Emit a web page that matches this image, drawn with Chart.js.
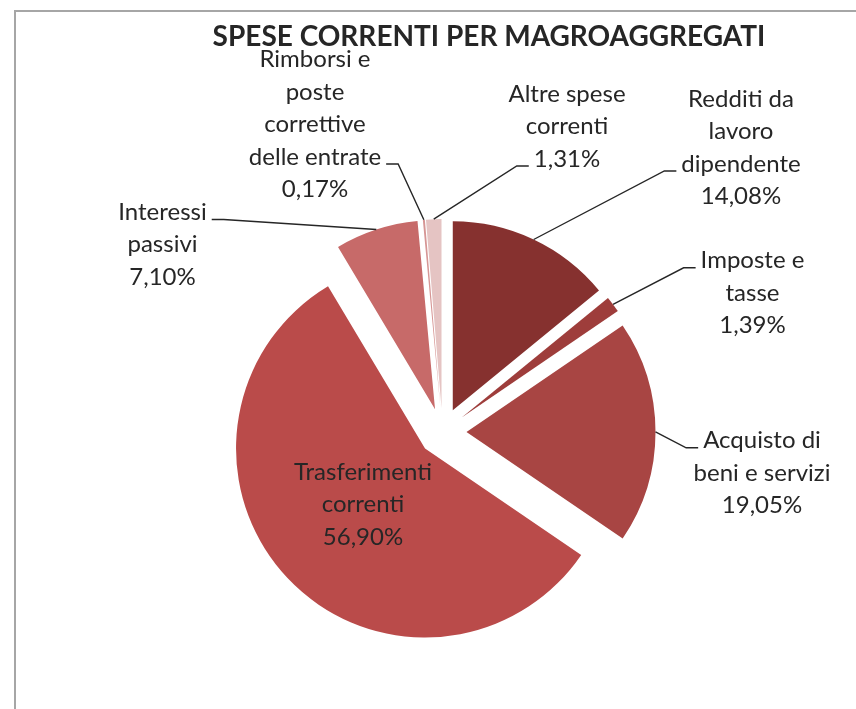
<!DOCTYPE html>
<html>
<head>
<meta charset="utf-8">
<script src="https://cdn.jsdelivr.net/npm/chart.js@4"></script>
<style>
html,body{margin:0;padding:0;background:#fff;overflow:hidden}
canvas{display:block}
</style>
</head>
<body>
<canvas id="c" width="856" height="709"></canvas>
<script>
// ---- data ----
const TITLE = 'SPESE CORRENTI PER MAGROAGGREGATI';
const categories = [
  'Redditi da lavoro dipendente',
  'Imposte e tasse',
  'Acquisto di beni e servizi',
  'Trasferimenti correnti',
  'Interessi passivi',
  'Rimborsi e poste correttive delle entrate',
  'Altre spese correnti'
];
const values = [14.08, 1.39, 19.05, 56.90, 7.10, 0.17, 1.31];
const labelLines = [
  ['Redditi da', 'lavoro', 'dipendente'],
  ['Imposte e', 'tasse'],
  ['Acquisto di', 'beni e servizi'],
  ['Trasferimenti', 'correnti'],
  ['Interessi', 'passivi'],
  ['Rimborsi e', 'poste', 'correttive', 'delle entrate'],
  ['Altre spese', 'correnti']
];

// ---- styles / layout ----
const sliceColors = ['#86312F', '#9E3D3B', '#A84543', '#BA4B4A', '#C76A69', '#D69695', '#E5C4C3'];
const EXPLODE = 24;
const PIE_RADIUS = 189;
// label block: [dx of centre, dy of first baseline] relative to pie centre
const LABEL_POS = [[298.5, -325.3], [310, -163.7], [319.5, 16.3], [-79.5, 48], [-280, -212], [-127.5, -364.7], [124.5, -330.3]];
// which line the leader attaches to (-1: no leader)
const LEADER_LINE = [2, 0, 0, -1, 0, 3, 2];
const LINE_H = 32.4;
const FONT_FAMILY = 'Lato, "Open Sans", sans-serif';
const LABEL_FONT = '24px ' + FONT_FAMILY;
const TITLE_FONT = 'bold 28px ' + FONT_FAMILY;
const TEXT_COLOR = '#262626';

const fmtPct = v => v.toFixed(2).replace('.', ',') + '%';

const explodePlugin = {
  id: 'explode',
  afterDatasetsUpdate(chart) {
    const meta = chart.getDatasetMeta(0);
    meta.data.forEach(arc => {
      const mid = (arc.startAngle + arc.endAngle) / 2;
      arc.x += Math.cos(mid) * EXPLODE;
      arc.y += Math.sin(mid) * EXPLODE;
    });
  }
};

const framePlugin = {
  id: 'frame',
  beforeDraw(chart) {
    const ctx = chart.ctx;
    ctx.save();
    ctx.fillStyle = '#a6a6a6';
    ctx.fillRect(14, 10, chart.width - 14, 2);
    ctx.fillRect(14, 10, 2, chart.height - 10);
    ctx.restore();
  }
};

const labelPlugin = {
  id: 'pieLabels',
  afterDraw(chart) {
    const ctx = chart.ctx;
    const meta = chart.getDatasetMeta(0);
    const {left, right, top, bottom} = chart.chartArea;
    const cx = (left + right) / 2, cy = (top + bottom) / 2;
    ctx.save();
    // title
    ctx.font = TITLE_FONT;
    ctx.fillStyle = TEXT_COLOR;
    ctx.textAlign = 'center';
    ctx.textBaseline = 'alphabetic';
    ctx.fillText(TITLE, 489, 46);
    // labels
    ctx.font = LABEL_FONT;
    ctx.strokeStyle = TEXT_COLOR;
    ctx.lineWidth = 1.4;
    meta.data.forEach((arc, i) => {
      const lines = labelLines[i].concat([fmtPct(values[i])]);
      const x = cx + LABEL_POS[i][0];
      const y0 = cy + LABEL_POS[i][1];
      lines.forEach((t, k) => ctx.fillText(t, x, y0 + k * LINE_H));
      const li = LEADER_LINE[i];
      if (li < 0) return;
      const mid = (arc.startAngle + arc.endAngle) / 2;
      const ex = arc.x + Math.cos(mid) * arc.outerRadius;
      const ey = arc.y + Math.sin(mid) * arc.outerRadius;
      const w = ctx.measureText(lines[li]).width;
      const ly = y0 + li * LINE_H - 0.5;
      const side = ex < x ? -1 : 1;
      const x1 = x + side * (w / 2 + 5);
      const x2 = x1 + side * 12;
      ctx.beginPath();
      ctx.moveTo(x1, ly);
      ctx.lineTo(x2, ly);
      ctx.lineTo(ex, ey);
      ctx.stroke();
    });
    ctx.restore();
  }
};

new Chart(document.getElementById('c'), {
  type: 'pie',
  data: {
    labels: categories,
    datasets: [{
      data: values,
      backgroundColor: sliceColors,
      borderWidth: 0
    }]
  },
  options: {
    responsive: false,
    animation: false,
    events: [],
    radius: PIE_RADIUS,
    layout: {padding: {left: 129, right: 100, top: 255, bottom: 100}},
    plugins: {
      legend: {display: false},
      tooltip: {enabled: false},
      title: {display: false}
    }
  },
  plugins: [framePlugin, explodePlugin, labelPlugin]
});
</script>
</body>
</html>
